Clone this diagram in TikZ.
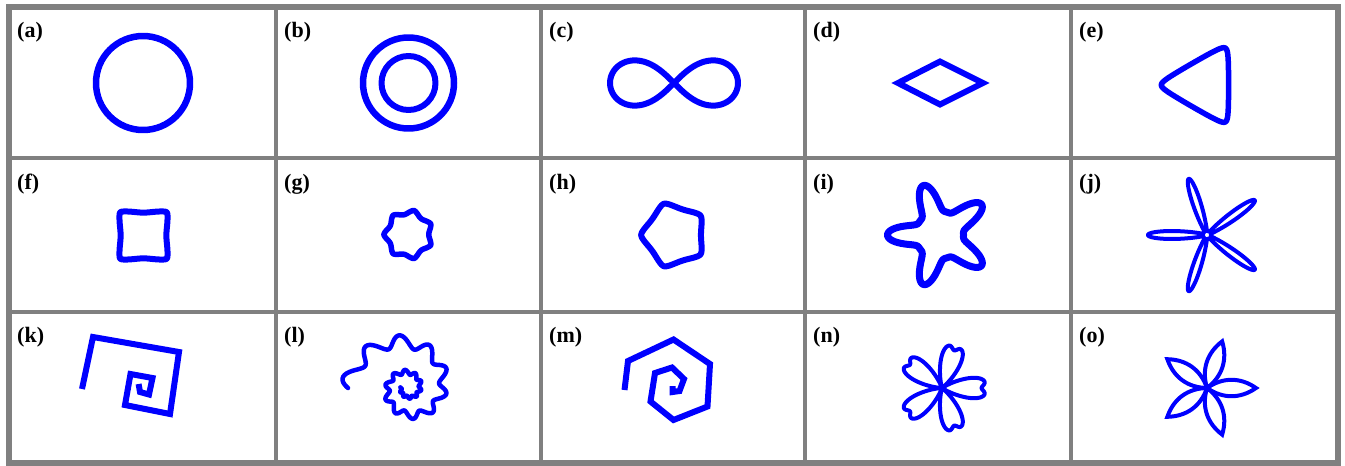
\documentclass[tikz,border=0pt]{standalone}
\usepackage{fontspec}
\setmainfont{Liberation Serif}
\usetikzlibrary{calc}
\definecolor{rule}{HTML}{808080}
\definecolor{curveblue}{HTML}{0000FF}
\newcommand{\lblfont}{\bfseries\fontsize{22pt}{24pt}\selectfont}
\tikzset{
  outer/.style={draw=rule, line width=6pt},
  divider/.style={draw=rule, line width=4pt},
  curve/.style={draw=curveblue, line width=6.5pt, line join=round, line cap=round},
  thincurve/.style={curve, line width=4.5pt},
  lab/.style={anchor=base west, inner sep=0pt, font=\lblfont, text=black},
  declare function={spike(\a,\k,\p)=((1-cos(\k*\a))/2+0.0001)^\p;
    rpoly(\a,\n,\k)=1/cos(acos(\k*cos(\n*\a))/\n);},
}

\begin{document}
\begin{tikzpicture}[x=1pt, y=-1pt]
  \useasboundingbox (0,0) rectangle (1345,466);
  \draw[outer] (8.5,6.5) rectangle (1337.5,462.5);
  \foreach \gx in {276,541,805,1071} \draw[divider] (\gx,6.5) -- (\gx,462.5);
  \foreach \gy in {158,311.5} \draw[divider] (8.5,\gy) -- (1337.5,\gy);
  \foreach \nm/\lx/\ly in {a/17/37.5, b/284/37.5, c/549/37.5, d/813/37.5, e/1079/37.5,
      f/17/189, g/284/189, h/549/189, i/813/189, j/1079/189,
      k/17/342.5, l/284/342.5, m/549/342.5, n/813/342.5, o/1079/342.5}
    \node[lab] (lab\nm) at (\lx,\ly) {(\nm)};
  % row 1
  \draw[curve] (143,83) circle[radius=47pt];
  \draw[curve] (408.5,83) circle[radius=45.5pt];
  \draw[curve, line width=6pt] (408.5,83) circle[radius=27pt];
  \draw[curve, line width=6pt] plot[variable=\t, domain=0:357, samples=120, smooth cycle]
    ({674+64*cos(\t)/(1+sin(\t)*sin(\t))}, {83+64*sin(\t)*cos(\t)/(1+sin(\t)*sin(\t))});
  \draw[curve, line width=6pt, line join=miter] (898,83) -- (940,61.5) -- (983,83) -- (940,104.5) -- cycle;
  % rounded polygons
  \foreach \cx/\cy/\a/\n/\k/\c/\lw in {1204/85/24.5/3/0.965/0/5.5, 143.5/235.5/24.3/4/0.98/-0.06/6,
      408.5/234.5/22.5/7/0.97/-0.1/5.5, 674/235/28/5/0.92/-0.04/6}
    \draw[curve, line width=\lw pt] plot[variable=\t, domain=0:359, samples=360, smooth cycle]
      ({\cx+\a*rpoly(\t,\n,\k)*(1+\c*(1+cos(\n*\t))/2)*cos(\t)}, {\cy+\a*rpoly(\t,\n,\k)*(1+\c*(1+cos(\n*\t))/2)*sin(\t)});
  % stars
  \draw[curve, line width=7pt] plot[variable=\t, domain=0:359, samples=360, smooth cycle]
    ({939.5+(24+28*spike(\t,5,2))*cos(\t)}, {235+(24+28*spike(\t,5,2))*sin(\t)});
  \draw[curve, line width=4pt] plot[variable=\t, domain=0:359.5, samples=720, smooth cycle]
    ({1207+(4+55*spike(\t,5,7))*cos(\t)}, {235+(4+55*spike(\t,5,7))*sin(\t)});
  % row 3
  \draw[curve, line width=6pt, line join=miter, line cap=butt] (82,389) -- (93,337) -- (179,352) -- (170,414)
    -- (125,405) -- (130.5,374) -- (152.5,378) -- (149,394.5) -- (140,392) -- (138.6,384);
  \draw[thincurve] plot[variable=\t, domain=180:905, samples=500, smooth]
    ({408+60*exp(-0.17*(\t-180)/57.3)*(1+0.13*sin(10*\t))*cos(\t)},
     {388+60*exp(-0.17*(\t-180)/57.3)*(1+0.13*sin(10*\t))*sin(\t)});
  \draw[curve, line width=6pt, line join=miter, line cap=butt] (624.5,390) -- (628,361) -- (673.5,339.5)
    -- (710,364) -- (707.5,406.5) -- (673.5,420) -- (650.5,401.5) -- (655,373) -- (672,367.5)
    -- (684,379) -- (679.5,391) -- (672.5,392) -- (672.5,386);
  \draw[curve, line width=4pt] plot[variable=\t, domain=0:359.5, samples=720, smooth cycle]
    ({942+44*(1-spike(\t,5,1)^2)*(1-0.1*(1-spike(\t,5,1))^20)*cos(\t)},
     {388+44*(1-spike(\t,5,1)^2)*(1-0.1*(1-spike(\t,5,1))^20)*sin(\t)});
  \foreach \a in {0,72,...,288}
    \draw[curve, line width=4pt, line join=miter] (1207,388) to[bend left=35] ++(\a:49) to[bend left=35] (1207,388);
\end{tikzpicture}
\end{document}
